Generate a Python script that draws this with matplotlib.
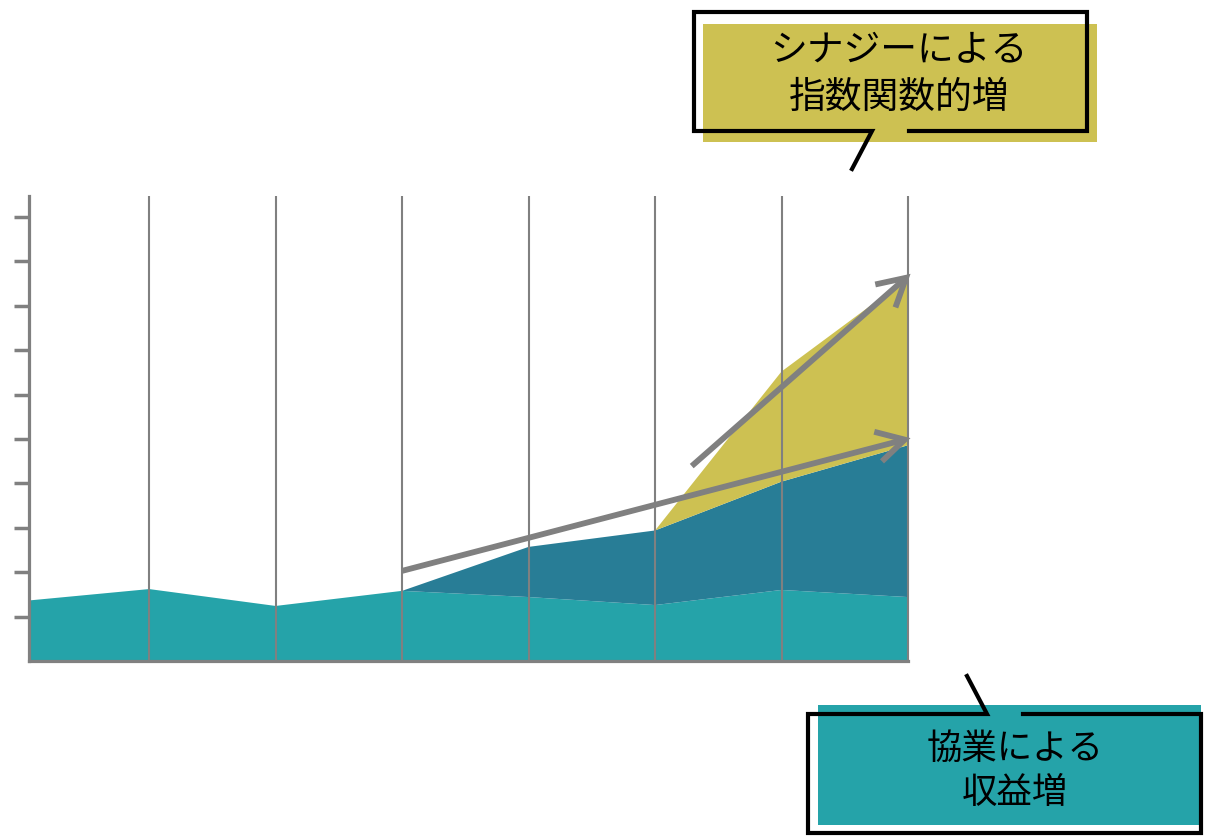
import matplotlib
matplotlib.use("Agg")
import matplotlib.pyplot as plt
from matplotlib.patches import Rectangle
from matplotlib.lines import Line2D

plt.rcParams['font.family'] = ['Noto Sans CJK JP', 'DejaVu Sans']

# data
periods = [0, 1, 2, 3, 4, 5, 6, 7]
base = [1.35, 1.62, 1.24, 1.58, 1.44, 1.26, 1.60, 1.44]
collab = [0, 0, 0, 0, 1.13, 1.68, 2.44, 3.42]
synergy = [0, 0, 0, 0, 0, 0, 2.48, 3.77]
trend_collab = [(3.0, 2.03), (7.02, 5.02)]
trend_synergy = [(5.29, 4.39), (7.02, 8.72)]
label_synergy = "シナジーによる\n指数関数的増"
label_collab = "協業による\n収益増"

teal = "#25a3a9"
dark = "#287d96"
yellow = "#cdc152"
gray = "#808080"

W, H = 1205, 840
fig = plt.figure(figsize=(W / 100, H / 100), dpi=100)


def fx(px):
    return px / W


def fy(py):
    return 1 - py / H


ax = fig.add_axes([fx(29), fy(661), fx(910) - fx(29), (661 - 196) / H])
ax.stackplot(periods, base, collab, synergy, colors=[teal, dark, yellow], linewidth=0)
ax.set_xlim(0.05, 7.0158)
ax.set_ylim(0, 465 / 44.4)

ax.set_xticks(periods[1:])
ax.set_yticks(range(1, 11))
ax.tick_params(axis='x', length=0, labelbottom=False)
ax.tick_params(axis='y', length=11, width=2.5, color=gray, direction='out', labelleft=False)
ax.grid(axis='x', color=gray, linewidth=1.5)
ax.set_axisbelow(False)
for s in ['top', 'right']:
    ax.spines[s].set_visible(False)
for s in ['left', 'bottom']:
    ax.spines[s].set_color(gray)
    ax.spines[s].set_linewidth(2.3)
ax.spines['bottom'].set_bounds(0.05, 7.0)

for (x0, y0), (x1, y1) in [trend_collab, trend_synergy]:
    ax.annotate("", xy=(x1, y1), xytext=(x0, y0), annotation_clip=False,
                arrowprops=dict(arrowstyle="->, head_length=0.9, head_width=0.5",
                                mutation_scale=22, color=gray, lw=4.2,
                                capstyle='butt', joinstyle='miter',
                                shrinkA=0, shrinkB=0))


def callout(fill_box, line_box, gap, tail, color, text, tx, ty, size):
    x0, y0, x1, y1 = fill_box
    fig.add_artist(Rectangle((fx(x0), fy(y1)), fx(x1) - fx(x0), fy(y0) - fy(y1),
                             transform=fig.transFigure, facecolor=color, edgecolor='none'))
    lx0, ly0, lx1, ly1 = line_box
    g0, g1, gy = gap
    if gy == ly1:
        pts = [(g1, ly1), (lx1, ly1), (lx1, ly0), (lx0, ly0), (lx0, ly1), (g0, ly1)]
    else:
        pts = [(g1, ly0), (lx1, ly0), (lx1, ly1), (lx0, ly1), (lx0, ly0), (g0, ly0)]
    pts.append(tail)
    fig.add_artist(Line2D([fx(p[0]) for p in pts], [fy(p[1]) for p in pts],
                          transform=fig.transFigure, color='black', lw=3,
                          solid_joinstyle='miter'))
    fig.text(fx(tx), fy(ty), text, ha='center', va='center', fontsize=size,
             linespacing=1.28, color='black')


callout((703, 24, 1097, 142), (694, 12, 1087, 131), (872, 909, 131), (852, 169),
        yellow, label_synergy, 899, 74, 26.5)
callout((818, 705, 1201, 825), (808, 714, 1201, 833), (987, 1023, 714), (967, 676),
        teal, label_collab, 1015, 771, 25.5)

fig.savefig("out.png", dpi=100)
